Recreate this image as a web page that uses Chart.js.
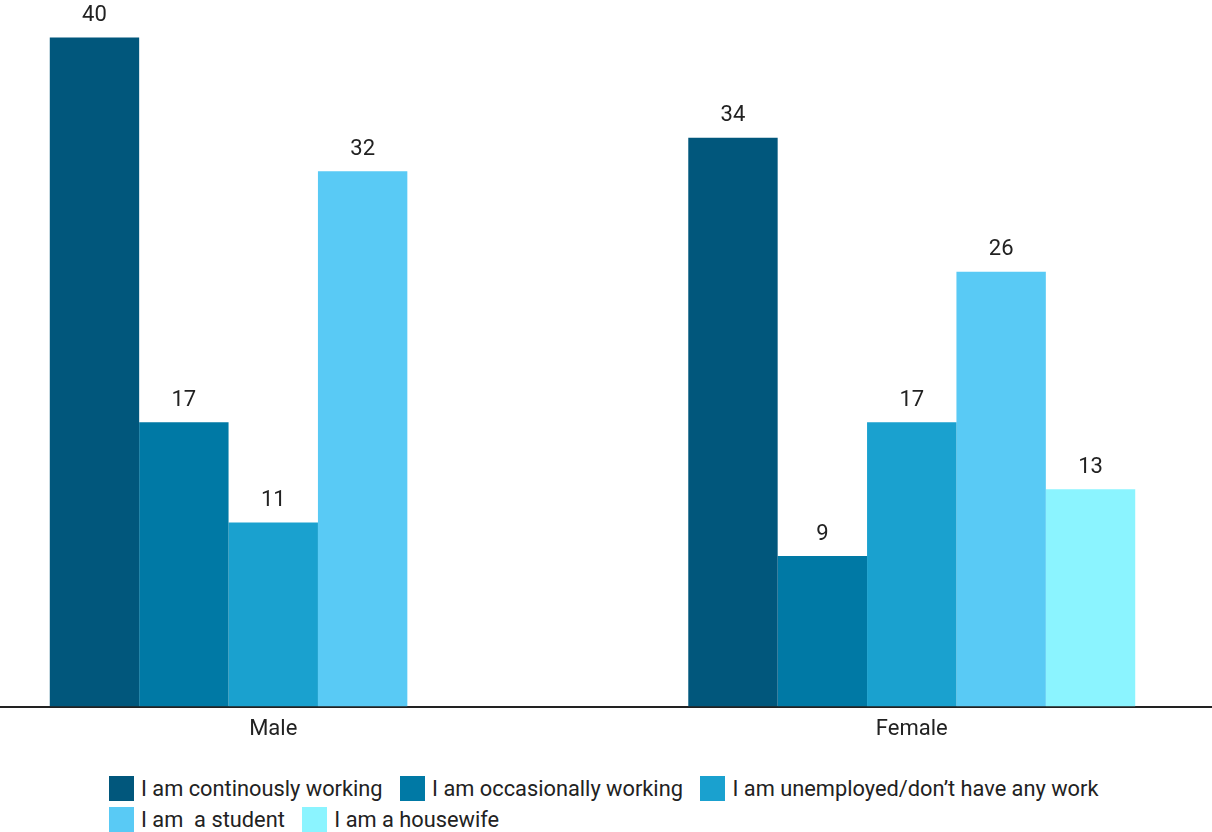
<!DOCTYPE html>
<html>
<head>
<meta charset="utf-8">
<script src="https://cdn.jsdelivr.net/npm/chart.js@4.4.1/dist/chart.umd.min.js"></script>
<style>
  html, body { margin: 0; padding: 0; background: #fff; overflow: hidden; }
  body { width: 1212px; height: 832px; position: relative; font-family: Roboto, sans-serif; }
  #grafico { position: absolute; left: -46px; top: 0; }
  #legenda {
    position: absolute; left: 109px; top: 775px; width: 1100px;
    display: flex; flex-wrap: wrap; row-gap: 0;
    font-size: 21.8px; color: #222;
  }
  .item { display: flex; align-items: center; margin-right: 17.5px; height: 26px; white-space: pre; }
  .caixa { width: 25px; height: 25px; margin-right: 7px; }
  .quebra { flex-basis: 100%; height: 5.5px; }
</style>
</head>
<body>
<canvas id="grafico" width="1277" height="753"></canvas>
<div id="legenda"></div>
<script>
// Categorias e séries
const categorias = ['Male', 'Female'];
const series = [
  'I am continously working',
  'I am occasionally working',
  'I am unemployed/don\u2019t have any work',
  'I am  a student',
  'I am a housewife'
];
const continuo = [40, 34];
const ocasional = [17, 9];
const desempregado = [11, 17];
const estudante = [32, 26];
const dona = [null, 13];
const cores = ['#01577C', '#0079A5', '#1AA1CF', '#59CAF5', '#8BF4FF'];

const valores = [continuo, ocasional, desempregado, estudante, dona];

// Rótulos de valor acima das barras
const rotulos = {
  id: 'rotulos',
  afterDatasetsDraw(chart) {
    const ctx = chart.ctx;
    ctx.save();
    ctx.font = '22px Roboto';
    ctx.fillStyle = '#222';
    ctx.textAlign = 'center';
    ctx.textBaseline = 'middle';
    chart.data.datasets.forEach((ds, i) => {
      chart.getDatasetMeta(i).data.forEach((bar, j) => {
        if (ds.data[j] == null) return;
        ctx.fillText(ds.data[j], bar.x, bar.y - 22);
      });
    });
    ctx.restore();
  }
};

const ctx = document.getElementById('grafico').getContext('2d');
new Chart(ctx, {
  type: 'bar',
  data: {
    labels: categorias,
    datasets: series.map((nome, i) => ({
      label: nome,
      data: valores[i],
      backgroundColor: cores[i],
      borderWidth: 0,
      barPercentage: 1,
      categoryPercentage: 0.7
    }))
  },
  options: {
    responsive: false,
    animation: false,
    layout: { padding: { top: 4, left: 0, right: 0, bottom: 0 } },
    plugins: {
      legend: { display: false },
      tooltip: { enabled: false }
    },
    scales: {
      x: {
        grid: { display: false, drawTicks: false },
        border: { display: true, color: '#222', width: 2 },
        ticks: {
          color: '#222',
          padding: 10,
          font: { size: 22, family: 'Roboto' }
        }
      },
      y: {
        display: false,
        min: 0,
        max: 42
      }
    }
  },
  plugins: [rotulos]
});

// Legenda em HTML (3 itens na primeira linha, 2 na segunda)
const legenda = document.getElementById('legenda');
series.forEach((nome, i) => {
  if (i === 3) {
    const quebra = document.createElement('div');
    quebra.className = 'quebra';
    legenda.appendChild(quebra);
  }
  const item = document.createElement('div');
  item.className = 'item';
  const caixa = document.createElement('span');
  caixa.className = 'caixa';
  caixa.style.background = cores[i];
  const texto = document.createElement('span');
  texto.textContent = nome;
  item.appendChild(caixa);
  item.appendChild(texto);
  legenda.appendChild(item);
});
</script>
</body>
</html>
